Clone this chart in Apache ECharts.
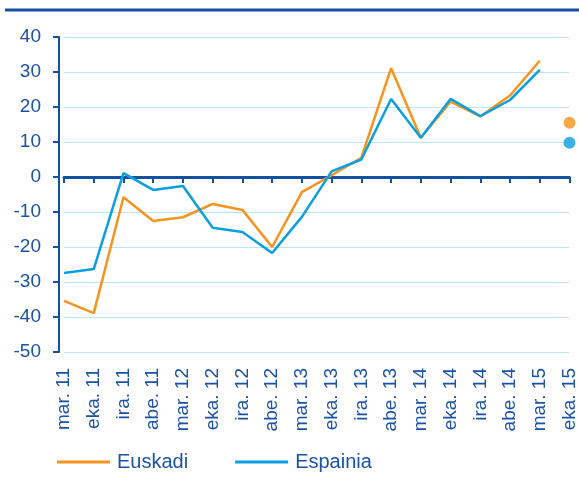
<!DOCTYPE html>
<html>
<head>
<meta charset="utf-8">
<script src="https://cdn.jsdelivr.net/npm/echarts@6/dist/echarts.min.js"></script>
<style>
  html, body { margin: 0; padding: 0; background: #fff; }
  #chart { width: 579px; height: 477px; }
</style>
</head>
<body>
<div id="chart"></div>
<script>
var chart = echarts.init(document.getElementById('chart'));

// hiruhilekoak (quarters)
var categories = ['mar. 11', 'eka. 11', 'ira. 11', 'abe. 11', 'mar. 12', 'eka. 12',
    'ira. 12', 'abe. 12', 'mar. 13', 'eka. 13', 'ira. 13', 'abe. 13', 'mar. 14',
    'eka. 14', 'ira. 14', 'abe. 14', 'mar. 15', 'eka. 15'];

var euskadi = [-35.4, -38.9, -5.8, -12.6, -11.5, -7.7, -9.4, -20.0, -4.3, 0.5,
    5.5, 31.1, 11.2, 21.5, 17.3, 23.3, 33.2, null];
var espainia = [-27.4, -26.3, 1.1, -3.7, -2.6, -14.5, -15.7, -21.7, -11.4, 1.6,
    5.0, 22.3, 11.2, 22.3, 17.4, 22.0, 30.6, null];

// eka. 15 puntua bakarrik (aurreikuspena)
var euskadiLast = 15.5;
var espainiaLast = 9.8;

var yTicks = { min: -50, max: 40, interval: 10 };

var orange = '#f7941d';
var blue = '#0a9fe0';
var navy = '#1451a0';
var textBlue = '#1b53a8';

function lastPoint(v) {
    return [[categories.length - 1, v]];
}

var option = {
    animation: false,
    textStyle: { fontFamily: 'Liberation Sans, Arial, sans-serif' },
    graphic: [{
        type: 'line',
        shape: { x1: 5, y1: 10, x2: 579, y2: 10 },
        style: { stroke: navy, lineWidth: 3 }
    }],
    grid: {
        left: 64,
        right: 7,
        top: 37,
        bottom: 125
    },
    legend: {
        left: 57,
        top: 452,
        padding: 0,
        itemWidth: 53,
        itemHeight: 3,
        itemGap: 47,
        icon: 'rect',
        data: ['Euskadi', 'Espainia'],
        textStyle: { color: textBlue, fontSize: 20, padding: [0, 0, 0, 2] }
    },
    xAxis: [{
        type: 'category',
        data: categories,
        boundaryGap: false,
        position: 'bottom',
        axisLine: { show: false, onZero: false },
        axisTick: { show: false },
        splitLine: { show: false },
        axisLabel: {
            rotate: 90,
            interval: 0,
            margin: 16,
            color: textBlue,
            fontSize: 19
        }
    }, {
        type: 'category',
        data: categories,
        boundaryGap: false,
        position: 'top',
        axisLine: { show: true, onZero: true, lineStyle: { color: navy, width: 3 } },
        axisTick: { show: true, inside: true, length: 6, interval: 0, lineStyle: { color: navy, width: 2 } },
        axisLabel: { show: false },
        splitLine: { show: false }
    }],
    yAxis: {
        type: 'value',
        min: yTicks.min,
        max: yTicks.max,
        interval: yTicks.interval,
        offset: 5,
        axisLine: { show: true, lineStyle: { color: navy, width: 2 } },
        axisTick: { show: true, length: 6, lineStyle: { color: navy, width: 2 } },
        axisLabel: { color: textBlue, fontSize: 19, margin: 18 },
        splitLine: { lineStyle: { color: '#bde5f6', width: 1 } }
    },
    series: [{
        name: 'Euskadi',
        type: 'line',
        data: euskadi,
        symbol: 'none',
        itemStyle: { color: orange },
        lineStyle: { color: orange, width: 2.5 }
    }, {
        name: 'Espainia',
        type: 'line',
        data: espainia,
        symbol: 'none',
        itemStyle: { color: blue },
        lineStyle: { color: blue, width: 2.5 }
    }, {
        name: 'Euskadi eka',
        type: 'scatter',
        data: lastPoint(euskadiLast),
        symbolSize: 12,
        itemStyle: { color: orange }
    }, {
        name: 'Espainia eka',
        type: 'scatter',
        data: lastPoint(espainiaLast),
        symbolSize: 12,
        itemStyle: { color: blue }
    }]
};

chart.setOption(option);
</script>
</body>
</html>
